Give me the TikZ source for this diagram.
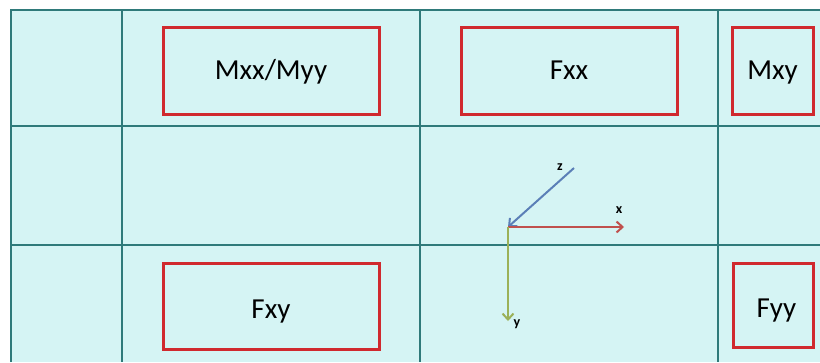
\documentclass[tikz,border=0pt]{standalone}
\usepackage{fontspec}
\setmainfont{Carlito}
\usetikzlibrary{arrows.meta}
\definecolor{cellbg}{HTML}{D5F4F4}
\definecolor{gridteal}{HTML}{2F7A7A}
\definecolor{boxred}{HTML}{D0292E}
\definecolor{zblue}{HTML}{5B7FB7}
\definecolor{xred}{HTML}{C0504D}
\definecolor{ygreen}{HTML}{9BB158}

\begin{document}
\begin{tikzpicture}[x=1pt, y=-1pt,
    gridline/.style={draw=gridteal, line width=2.5pt},
    compbox/.style={draw=boxred, line width=3pt, minimum height=87pt, inner sep=0pt,
        text height=24pt, text depth=6pt, font=\fontsize{29}{34}\selectfont},
    axis/.style={line width=2pt, -{Straight Barb[length=6pt, width=11pt]}},
    axlabel/.style={font=\fontsize{14}{16}\selectfont\bfseries, inner sep=0pt}]
    \useasboundingbox (0,0) rectangle (820,362);
    \fill [cellbg] (11,10) rectangle (820,362);

    % table lines
    \draw [gridline] (11,362) -- (11,10) -- (820,10);
    \draw [gridline] (122,10) -- (122,362);
    \draw [gridline] (420,10) -- (420,362);
    \draw [gridline] (718,10) -- (718,362);
    \draw [gridline] (11,126) -- (820,126);
    \draw [gridline] (11,245) -- (820,245);

    % components
    \node [compbox, minimum width=216pt] (mxxyy) at (271,70.5) {Mxx/Myy};
    \node [compbox, minimum width=216pt] (fxx) at (569,70.5) {Fxx};
    \node [compbox, minimum width=81pt] (mxy) at (772.5,70.5) {Mxy};
    \node [compbox, minimum width=216pt, minimum height=86pt, text height=30pt] (fxy) at (271,306) {Fxy};
    \node [compbox, minimum width=80pt, minimum height=84pt, text height=30pt] (fyy) at (773,305) {\hspace{7pt}Fyy};

    % axes
    \coordinate (o) at (508,227);
    \coordinate (ztail) at (574,168);
    \coordinate (xtip) at (624,227);
    \coordinate (ytip) at (508,321);
    \draw [zblue, axis] (ztail) -- (o);
    \draw [xred, axis] (o) -- (xtip);
    \draw [ygreen, axis] (o) -- (ytip);
    \node [axlabel] (zlab) at (560,167) {z};
    \node [axlabel] (xlab) at (619,210) {x};
    \node [axlabel] (ylab) at (517,324) {y};
\end{tikzpicture}
\end{document}
